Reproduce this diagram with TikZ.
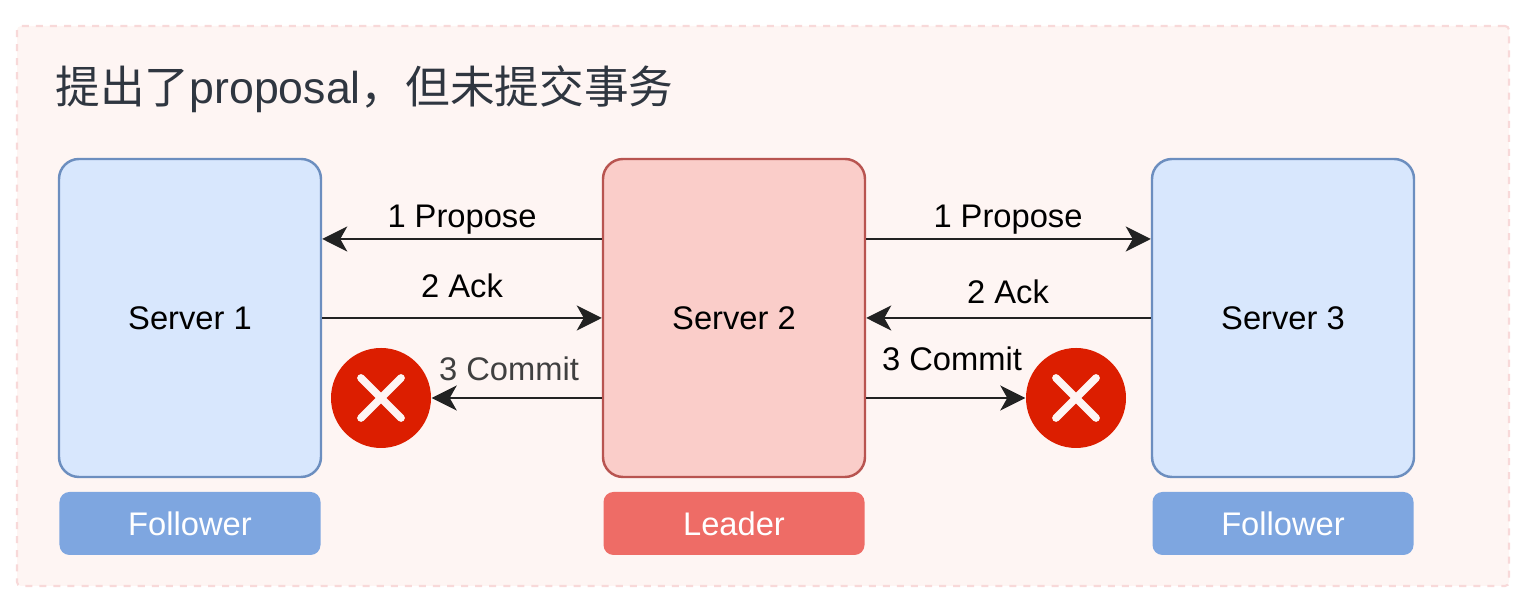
\documentclass[tikz,border=0pt]{standalone}
\usepackage{fontspec}
\setmainfont{Liberation Sans}
\newfontfamily\cjk{Noto Sans CJK SC}
\usetikzlibrary{arrows.meta}
\definecolor{panelfill}{HTML}{FEF5F3}
\definecolor{paneldash}{HTML}{F8D9D9}
\definecolor{bluefill}{HTML}{D8E7FD}
\definecolor{blueline}{HTML}{6C8EBF}
\definecolor{redfill}{HTML}{FACDC9}
\definecolor{redline}{HTML}{B85450}
\definecolor{bluerole}{HTML}{7EA6E0}
\definecolor{redrole}{HTML}{EE6C66}
\definecolor{crossred}{HTML}{DC1E00}
\definecolor{titleink}{HTML}{2F3640}
\definecolor{arrowink}{HTML}{222222}
\tikzset{
	server/.style={draw, rounded corners=0.2cm, line width=0.7pt, minimum width=2.62cm, minimum height=3.18cm, inner sep=0, font=\fontsize{9.3}{11}\selectfont},
	role/.style={rounded corners=0.1cm, minimum width=2.61cm, minimum height=0.63cm, inner sep=0, text=white, font=\fontsize{9.3}{11}\selectfont},
	msg/.style={inner sep=0, font=\fontsize{9.3}{11}\selectfont},
	arr/.style={draw=arrowink, line width=0.7pt, -{Stealth[length=0.25cm,width=0.25cm,inset=0.07cm]}},
	cross/.style={circle, fill=crossred, minimum size=1cm, inner sep=0},
	crossline/.style={draw=panelfill, line width=2.2pt, line cap=round},
}

\begin{document}
\begin{tikzpicture}
	\useasboundingbox (0,0) rectangle (15.18,6.04);
	
	% panel
	\node[draw=paneldash, fill=panelfill, dash pattern=on 2pt off 2pt, line width=0.6pt, rounded corners=0.04cm, minimum width=14.92cm, minimum height=5.6cm, inner sep=0] (panel) at (7.63,2.98) {};
	\node[anchor=west, inner sep=0, text=titleink, font=\fontsize{12.7}{15}\selectfont] (title) at (0.55,5.15) {{\cjk 提出了}proposal{\cjk ，但未提交事务}};
	
	% servers
	\node[server, fill=bluefill, draw=blueline] (s1) at (1.90,2.86) {Server 1};
	\node[server, fill=redfill, draw=redline] (s2) at (7.34,2.86) {Server 2};
	\node[server, fill=bluefill, draw=blueline] (s3) at (12.83,2.86) {Server 3};
	
	\node[role, fill=bluerole] (r1) at (1.90,0.805) {Follower};
	\node[role, fill=redrole] (r2) at (7.34,0.805) {Leader};
	\node[role, fill=bluerole] (r3) at (12.83,0.805) {Follower};
	
	% failed commits
	\node[cross] (x1) at (3.81,2.06) {};
	\node[cross] (x3) at (10.76,2.06) {};
	\draw[crossline] (x1.center) +(-0.2,-0.2) -- +(0.2,0.2) +(-0.2,0.2) -- +(0.2,-0.2);
	\draw[crossline] (x3.center) +(-0.2,-0.2) -- +(0.2,0.2) +(-0.2,0.2) -- +(0.2,-0.2);
	
	% messages
	\coordinate (py) at (0,3.65);
	\draw[arr] (s2.west |- py) -- (s1.east |- py);
	\draw[arr] (s2.east |- py) -- (s3.west |- py);
	\draw[arr] (s1) -- (s2);
	\draw[arr] (s3) -- (s2);
	\draw[arr] (s2.west |- x1) -- (x1);
	\draw[arr] (s2.east |- x3) -- (x3);
	
	\node[msg] (m1) at (4.62,3.84) {1 Propose};
	\node[msg] (m2) at (10.08,3.84) {1 Propose};
	\node[msg] (m3) at (4.62,3.18) {2 Ack};
	\node[msg] (m4) at (10.08,3.12) {2 Ack};
	\node[msg, text=black!75] (m5) at (5.09,2.35) {3 Commit};
	\node[msg] (m6) at (9.52,2.45) {3 Commit};
\end{tikzpicture}
\end{document}
